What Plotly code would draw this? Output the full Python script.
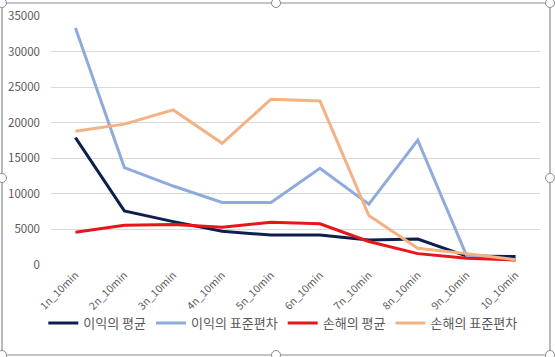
import plotly.graph_objects as go

categories = ["1n_10min", "2n_10min", "3n_10min", "4n_10min", "5n_10min",
              "6n_10min", "7n_10min", "8n_10min", "9n_10min", "10_10min"]
profit_mean = [17900, 7600, 6100, 4750, 4200, 4200, 3500, 3650, 1250, 1200]
profit_std = [33300, 13700, 11100, 8800, 8800, 13600, 8550, 17550, 1300, 700]
loss_mean = [4600, 5600, 5700, 5300, 6000, 5800, 3300, 1600, 950, 700]
loss_std = [18800, 19800, 21800, 17100, 23300, 23050, 6950, 2350, 1600, 750]

series_names = ["이익의 평균", "이익의 표준편차", "손해의 평균", "손해의 표준편차"]
series_colors = ["#0C1F4F", "#8FAADC", "#E8161B", "#F4B183"]
y_ticks = [0, 5000, 10000, 15000, 20000, 25000, 30000, 35000]

W, H = 555, 357
L, R, T, B = 51, 15, 16, 92
pw, ph = W - L - R, H - T - B

def px(x):
    return (x - L) / pw

def py(y):
    return (H - B - y) / ph

fig = go.Figure()
for name, vals, col in zip(series_names, [profit_mean, profit_std, loss_mean, loss_std], series_colors):
    fig.add_trace(go.Scatter(x=categories, y=vals, name=name, mode="lines",
                             line=dict(color=col, width=3)))

shapes = [dict(type="rect", xref="paper", yref="paper",
               x0=px(2), x1=px(550), y0=py(355), y1=py(3),
               line=dict(color="#8C8C8C", width=1.2), fillcolor="rgba(0,0,0,0)", layer="below")]
r = 4.5
for hx, hy in [(2, 3), (276, 3), (550, 3), (2, 178), (550, 178), (2, 355), (276, 355), (550, 355)]:
    shapes.append(dict(type="circle", xref="paper", yref="paper",
                       x0=px(hx - r), x1=px(hx + r), y0=py(hy + r), y1=py(hy - r),
                       line=dict(color="#8C8C8C", width=1), fillcolor="white", layer="above"))

fig.update_layout(
    width=W, height=H,
    margin=dict(l=L, r=R, t=T, b=B, autoexpand=False),
    paper_bgcolor="white", plot_bgcolor="white",
    font=dict(family="Noto Sans CJK KR, Noto Sans, sans-serif", color="#595959", size=11),
    showlegend=True,
    legend=dict(orientation="h", x=0.474, xanchor="center", y=py(323), yanchor="middle",
                font=dict(size=13, color="#595959"), itemwidth=30, tracegroupgap=0,
                bgcolor="rgba(0,0,0,0)"),
    xaxis=dict(type="category", range=[-0.5, 9.5], tickangle=-45, showgrid=False, showline=False,
               ticks="", tickfont=dict(size=10.5, color="#595959"), fixedrange=True,
               automargin=False, ticklabelstandoff=1),
    yaxis=dict(range=[0, 35000], tickvals=y_ticks, ticktext=[str(v) for v in y_ticks],
               showgrid=True, gridcolor="#D9D9D9", gridwidth=1, zeroline=False,
               showline=False, ticks="", tickfont=dict(size=11.5, color="#595959"),
               ticklabelstandoff=10, automargin=False, fixedrange=True),
    shapes=shapes,
)

fig.write_html("out.html", config={"displayModeBar": False},
               post_script="document.body.style.margin='0';")
